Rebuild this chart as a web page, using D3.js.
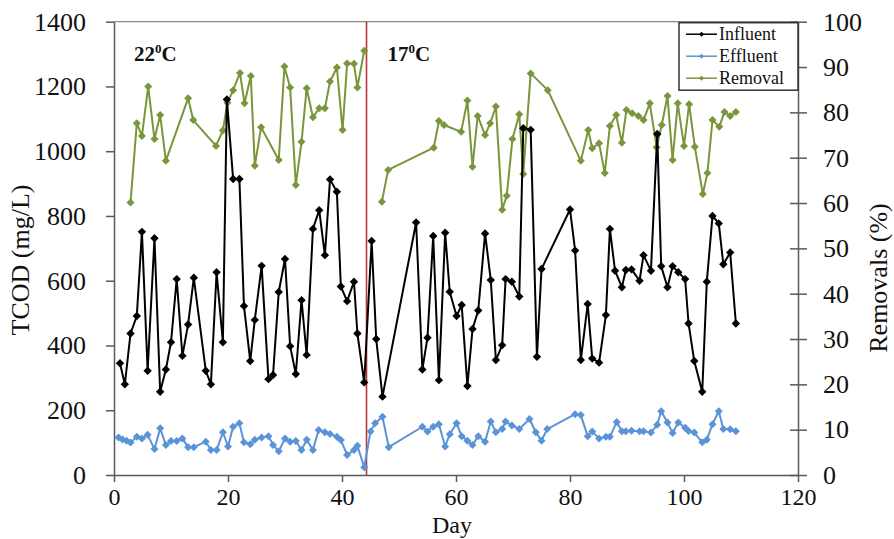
<!DOCTYPE html>
<html>
<head>
<meta charset="utf-8">
<script src="https://cdn.jsdelivr.net/npm/d3@7"></script>
<style>
  body { margin: 0; background: #fff; }
  svg text { font-family: "Liberation Serif", "Times New Roman", serif; fill: #111; }
</style>
</head>
<body>
<svg id="chart" width="894" height="539"></svg>
<script>
// ---------------- DATA ----------------
const influentDays = [1.05,1.9,2.9,4,4.9,5.9,7.1,8.1,9.1,10,11,12,13,14,16.1,17,18,19.1,19.8,20.9,22,22.8,23.9,24.7,25.9,27.1,27.9,28.9,30,30.9,31.9,32.9,33.8,34.9,36,37,37.9,39.1,39.8,40.9,42.1,42.7,43.9,
  45.2,46,47.1,53,54.1,55,56,57,58.1,58.9,60.1,61,62,62.9,63.9,65.1,66.1,67,68.1,68.7,69.8,71.1,71.8,73.1,74.2,75,80,80.9,81.9,83.1,83.9,85.1,86.3,87,87.9,89.1,89.8,90.8,92.2,92.9,94.2,95.3,96,97.1,98,99,100.2,100.8,101.8,103.2,104,105,106.1,106.9,108.1,109.1];
const influentValues = [345,280,437,491,751,322,731,257,326,410,605,368,465,609,322,280,626,410,1160,914,914,522,352,479,646,296,309,565,667,398,312,540,371,760,818,679,913,875,582,537,597,437,286,
  723,420,242,780,326,424,738,293,748,566,491,525,275,451,508,746,602,355,401,605,597,551,1071,1066,365,636,820,693,355,528,360,347,494,760,631,580,633,635,600,679,631,1053,645,580,645,626,605,468,352,257,597,800,777,651,687,468];

const effluentDays = [0.8,1.5,2.2,2.9,4,4.9,5.9,7.1,8.1,9.1,10,11,12,13,14,16.1,17,18,19.1,20,20.9,22,22.8,23.9,24.7,25.9,27.1,27.9,28.9,30,30.9,31.9,32.9,33.8,34.9,35.9,37,37.9,39.1,39.8,40.9,42.1,42.7,43.9,
  45,45.8,47.1,48.2,54.1,55,56,57,58.1,58.9,60.1,61,62,62.9,63.9,65.1,66.1,67,68.1,68.7,69.8,71.1,72.9,74,75,76,80.9,81.9,83.1,83.9,85.1,86.3,87,88.2,89.1,89.8,90.8,92.2,92.9,94.2,95.3,96,97.1,98,99,100.2,100.8,101.8,103.2,104,105,106.1,106.9,108.1,109.1];
const effluentValues = [116,110,106,100,118,113,124,80,144,93,105,105,113,86,86,103,77,77,132,88,149,160,101,95,109,116,120,93,73,113,103,105,77,109,77,139,132,127,118,108,62,77,90,24,
  134,160,180,86,149,134,149,157,88,126,160,120,106,93,120,103,165,132,142,165,153,142,173,132,106,142,188,185,120,134,113,118,118,164,135,135,137,135,135,131,155,197,162,130,162,146,136,131,101,109,157,197,142,141,135];

// Removal (%): null marks the break in the line between the two temperature phases
const removalDays = [2.9,4,4.9,6,7.1,8.1,9.1,13,13.9,17.9,19.1,19.9,20.9,22.1,22.9,24,24.7,25.8,28.9,29.9,30.9,31.9,32.9,33.8,34.9,36,37,37.9,39.1,40.1,40.9,42.1,42.7,43.9,
  null,
  47,48.1,56.1,57,57.9,60.9,62,62.9,63.8,65.1,66,67,68.1,68.9,69.9,71.1,71.8,73.1,76.1,81.9,83.2,83.9,85.1,86.1,87,88.1,89.1,89.9,90.9,92,92.9,94,95.2,96.1,97.1,98,98.9,100,100.9,101.9,103.3,104.1,105,106.2,107.1,108.1,109.1];
const removalValues = [60.1,77.6,74.8,85.7,74.1,79.4,69.3,83.1,78.3,72.6,76,82.1,84.9,88.7,82,88,68.2,76.7,69.5,90.1,85.5,64,73.5,85.3,78.9,80.9,80.9,86.8,89.9,76.1,90.8,90.7,85.5,93.6,
  null,
  60.3,67.3,72.2,78.1,77.2,75.7,82.6,68,79.2,75,77.6,81.3,58.5,61.6,74.1,79.6,66.4,88.6,84.9,69.3,76.1,72.1,73.2,66.6,77,79.4,73.3,80.5,79.8,79.2,78.3,82,72.3,77.2,83.6,69.5,82,72.6,81.8,72.4,62,66.6,78.3,76.8,80.1,79.2,80.1];

const xTicks = [0,20,40,60,80,100,120];
const yLeftTicks = [0,200,400,600,800,1000,1200,1400];
const yRightTicks = [0,10,20,30,40,50,60,70,80,90,100];
const phaseChangeDay = 44.3;
const phaseLabels = [{day: 3.5, text: "22", unit: "C"}, {day: 48, text: "17", unit: "C"}];
const seriesNames = ["Influent", "Effluent", "Removal"];
const colors = {Influent: "#000000", Effluent: "#5b93d8", Removal: "#79963b"};

// ---------------- LAYOUT ----------------
const L = 114, R = 798, T = 21.7, B = 475;
const svg = d3.select("#chart");

const x = d3.scaleLinear().domain([0,120]).range([L,R]);
const yL = d3.scaleLinear().domain([0,1400]).range([B,T]);
const yR = d3.scaleLinear().domain([0,100]).range([B,T]);

// frame top line
svg.append("line").attr("x1",L).attr("x2",R).attr("y1",T).attr("y2",T)
  .attr("stroke","#8a8a8a").attr("stroke-width",1.3);

// axes
const axColor = "#5a5a5a";
const fmt = d3.format("d");
const gx = svg.append("g").attr("transform",`translate(0,${B})`)
  .call(d3.axisBottom(x).tickValues(xTicks).tickFormat(fmt).tickSize(7).tickSizeOuter(0).tickPadding(6));
const gyl = svg.append("g").attr("transform",`translate(${L},0)`)
  .call(d3.axisLeft(yL).tickValues(yLeftTicks).tickFormat(fmt).tickSize(8).tickSizeOuter(0).tickPadding(20));
const gyr = svg.append("g").attr("transform",`translate(${R},0)`)
  .call(d3.axisRight(yR).tickValues(yRightTicks).tickFormat(fmt).tickSize(9).tickSizeOuter(0).tickPadding(16));
// right ticks cross the axis
gyr.selectAll(".tick line").attr("x1",-8);
[gx,gyl,gyr].forEach(g=>{
  g.attr("font-family","Liberation Serif, serif");
  g.select(".domain").attr("stroke",axColor).attr("stroke-width",1.5);
  g.selectAll(".tick line").attr("stroke",axColor).attr("stroke-width",1.5);
  g.selectAll(".tick text").attr("fill","#111");
});
gx.selectAll(".tick text").attr("font-size",24);
gyl.selectAll(".tick text").attr("font-size",26);
gyr.selectAll(".tick text").attr("font-size",26);

// axis titles
svg.append("text").attr("x",452).attr("y",533).attr("text-anchor","middle").attr("font-size",24).text("Day");
svg.append("text").attr("transform","translate(29,260) rotate(-90)").attr("text-anchor","middle").attr("font-size",26).text("TCOD (mg/L)");
svg.append("text").attr("transform","translate(887,278) rotate(-90)").attr("text-anchor","middle").attr("font-size",26).text("Removals (%)");

// phase change line
svg.append("line").attr("x1",x(phaseChangeDay)).attr("x2",x(phaseChangeDay)).attr("y1",T).attr("y2",B)
  .attr("stroke","#b8383a").attr("stroke-width",1.6);

// phase labels
phaseLabels.forEach(p=>{
  const t = svg.append("text").attr("x",x(p.day)).attr("y",61).attr("font-size",21).attr("font-weight","bold");
  t.append("tspan").text(p.text);
  t.append("tspan").attr("dy",-8).attr("font-size",13).text("0");
  t.append("tspan").attr("dy",8).text(p.unit);
});

// series
const diamond = r => `M0,${-r}L${r},0L0,${r}L${-r},0Z`;
function drawSeries(days, vals, scale, color, r){
  const pts = days.map((d,i)=>({d, v: vals[i]}));
  const line = d3.line().defined(p=>p.d!==null && p.v!==null).x(p=>x(p.d)).y(p=>scale(p.v));
  svg.append("path").datum(pts).attr("d",line).attr("fill","none").attr("stroke",color).attr("stroke-width",2).attr("stroke-linejoin","round");
  svg.append("g").selectAll("path").data(pts.filter(p=>p.d!==null)).join("path")
    .attr("d",diamond(r)).attr("transform",p=>`translate(${x(p.d)},${scale(p.v)})`).attr("fill",color);
}
drawSeries(removalDays, removalValues, yR, colors.Removal, 4);
drawSeries(influentDays, influentValues, yL, colors.Influent, 4.2);
drawSeries(effluentDays, effluentValues, yL, colors.Effluent, 4);

// legend
const lg = svg.append("g").attr("transform","translate(679,22.7)");
lg.append("rect").attr("width",119).attr("height",67.5).attr("fill","#fff").attr("stroke","#333").attr("stroke-width",1.5);
seriesNames.forEach((n,i)=>{
  const yy = 11.5 + i*22;
  lg.append("line").attr("x1",7).attr("x2",38).attr("y1",yy).attr("y2",yy).attr("stroke",colors[n]).attr("stroke-width",1.5);
  lg.append("path").attr("d",diamond(2.5)).attr("transform",`translate(22.5,${yy})`).attr("fill",colors[n]);
  lg.append("text").attr("x",40).attr("y",yy+6).attr("font-size",18).text(n);
});
</script>
</body>
</html>
